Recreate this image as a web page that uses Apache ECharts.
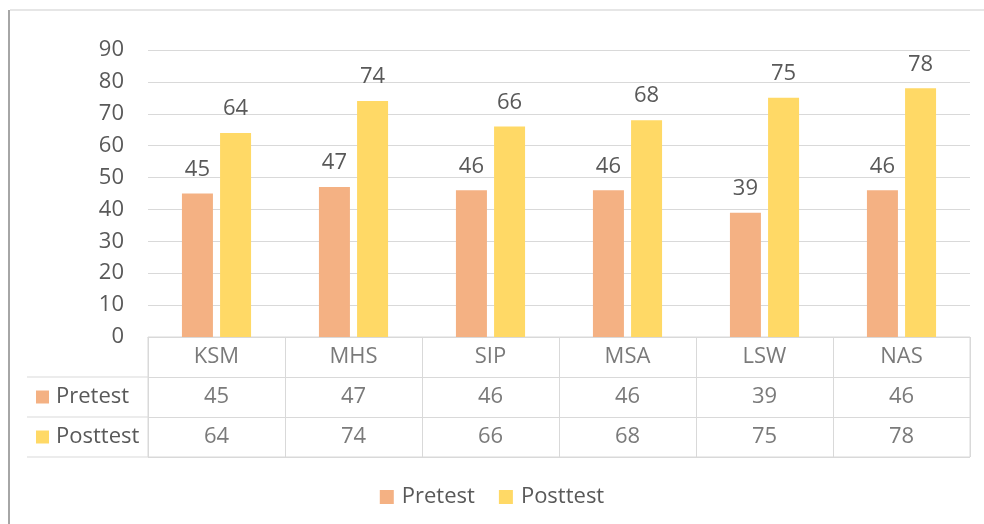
<!DOCTYPE html>
<html><head><meta charset="utf-8">
<script src="https://cdn.jsdelivr.net/npm/echarts@6/dist/echarts.min.js"></script>
<style>html,body{margin:0;padding:0;background:#fff;}#c{width:984px;height:524px;}</style>
</head><body><div id="c"></div>
<script>
const categories = ['KSM','MHS','SIP','MSA','LSW','NAS'];
const pretest = [45,47,46,46,39,46];
const posttest = [64,74,66,68,75,78];
const yTicks = {min:0, max:90, interval:10};

const FONT = 'Open Sans';
const TXT = '#595959';
const LINE = '#d9d9d9';
const C1 = '#F4B183', C2 = '#FFD966';
const GL = 148, GR = 14, GT = 50, GB = 187;
const T_TOP = 337, T_ROW = 40;

const chart = echarts.init(document.getElementById('c'), null, {renderer:'canvas'});
const tablePre = categories.map((c,i)=>[c,'Pretest',pretest[i]]);
const tablePost = categories.map((c,i)=>[c,'Posttest',posttest[i]]);
const tableHead = categories.map(c=>[c,'head',c]);

chart.setOption({
  animation:false,
  textStyle:{fontFamily:FONT},
  legend:{
    data:['Pretest','Posttest'], bottom: 11, left:'center',
    itemWidth:14, itemHeight:14, itemGap:24,
    icon:'rect',
    textStyle:{color:TXT,fontSize:22,fontFamily:FONT,padding:[0,0,0,3]}
  },
  grid:[
    {left:GL,right:GR,top:GT,bottom:GB},
    {left:GL,right:GR,top:T_TOP,height:T_ROW*3,show:true,borderColor:LINE,borderWidth:1}
  ],
  xAxis:[
    {type:'category',data:categories,gridIndex:0,axisLabel:{show:false},axisTick:{show:false},
     axisLine:{lineStyle:{color:LINE}}},
    {type:'category',data:categories,gridIndex:1,axisLabel:{show:false},axisTick:{show:false},
     axisLine:{show:false},splitLine:{show:true,lineStyle:{color:LINE}}}
  ],
  yAxis:[
    {type:'value',gridIndex:0,min:yTicks.min,max:yTicks.max,interval:yTicks.interval,
     axisLabel:{color:TXT,fontSize:22,margin:24,fontFamily:FONT},
     splitLine:{lineStyle:{color:LINE}},axisLine:{show:false},axisTick:{show:false}},
    {type:'category',gridIndex:1,data:['head','Pretest','Posttest'],inverse:true,
     axisLine:{show:false},axisTick:{show:false},splitLine:{show:true,lineStyle:{color:LINE}},
     axisLabel:{align:'left',margin:GL-36,
       formatter:v=> v==='Pretest' ? '{a|}{t|Pretest}' : (v==='Posttest' ? '{b|}{t|Posttest}' : ''),
       rich:{a:{backgroundColor:C1,width:13,height:13},b:{backgroundColor:C2,width:13,height:13},
             t:{color:TXT,fontSize:22,fontFamily:FONT,padding:[0,0,0,7]}}}}
  ],
  series:[
    {name:'Pretest',type:'bar',data:pretest,barWidth:31,barGap:'23%',itemStyle:{color:C1},
     label:{show:true,position:'top',distance:13,color:TXT,fontSize:22,fontFamily:FONT}},
    {name:'Posttest',type:'bar',data:posttest,barWidth:31,itemStyle:{color:C2},
     label:{show:true,position:'top',distance:13,color:TXT,fontSize:22,fontFamily:FONT}},
    {name:'tHead',type:'scatter',xAxisIndex:1,yAxisIndex:1,data:tableHead,symbolSize:0,
     label:{show:true,position:'inside',formatter:p=>p.value[2],color:TXT,fontSize:22,fontFamily:FONT},silent:true},
    {name:'tPre',type:'scatter',xAxisIndex:1,yAxisIndex:1,data:tablePre,symbolSize:0,
     label:{show:true,position:'inside',formatter:p=>p.value[2],color:TXT,fontSize:22,fontFamily:FONT},silent:true},
    {name:'tPost',type:'scatter',xAxisIndex:1,yAxisIndex:1,data:tablePost,symbolSize:0,
     label:{show:true,position:'inside',formatter:p=>p.value[2],color:TXT,fontSize:22,fontFamily:FONT},silent:true}
  ],
  graphic:[
    {type:'line',shape:{x1:27,y1:T_TOP+T_ROW,x2:GL,y2:T_TOP+T_ROW},style:{stroke:LINE,lineWidth:1},silent:true},
    {type:'line',shape:{x1:27,y1:T_TOP+2*T_ROW,x2:GL,y2:T_TOP+2*T_ROW},style:{stroke:LINE,lineWidth:1},silent:true},
    {type:'line',shape:{x1:27,y1:T_TOP+3*T_ROW,x2:GL,y2:T_TOP+3*T_ROW},style:{stroke:LINE,lineWidth:1},silent:true},
    {type:'line',shape:{x1:10,y1:10,x2:984,y2:10},style:{stroke:'#e6e6e6',lineWidth:2},silent:true},
    {type:'line',shape:{x1:9,y1:10,x2:9,y2:524},style:{stroke:'#a6a6a6',lineWidth:2},silent:true}
  ]
});
</script></body></html>
